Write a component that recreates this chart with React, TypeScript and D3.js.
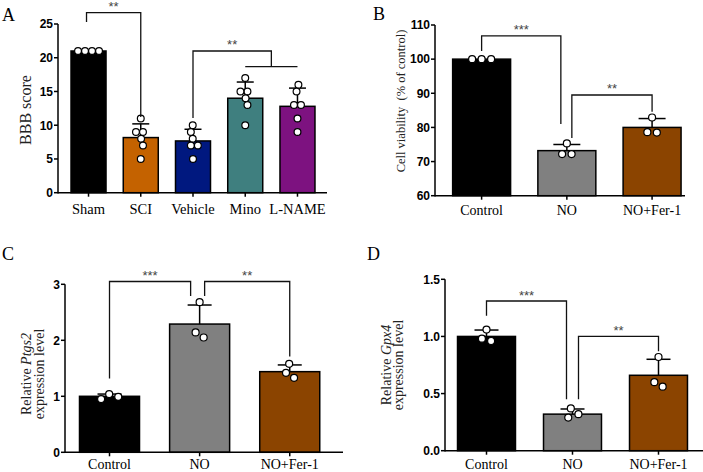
import React from "react";
import * as d3 from "d3";

// ---------- Data ----------
const A_categories = ["Sham", "SCI", "Vehicle", "Mino", "L-NAME"];
const A_means = [21, 8.17, 7.67, 14.0, 12.8];
const A_sd = [0, 2.03, 1.73, 2.4, 2.7];
const A_points = [
  [21, 21, 21, 21],
  [11, 9, 9, 8, 7, 5],
  [10, 9, 8, 7, 7, 5],
  [17, 15, 15, 14, 13, 10],
  [16, 15, 13, 13, 11, 9],
];
const A_colors = ["#000000", "#c46200", "#00187f", "#3f7f7f", "#7d1280"];
const A_ticks = [0, 5, 10, 15, 20, 25];

const B_categories = ["Control", "NO", "NO+Fer-1"];
const B_means = [100, 73.2, 80.0];
const B_sd = [0, 1.8, 2.6];
const B_points = [
  [100, 100, 100],
  [75.3, 72.2, 72.2],
  [82.9, 78.5, 78.6],
];
const B_ticks = [60, 70, 80, 90, 100, 110];

const C_categories = ["Control", "NO", "NO+Fer-1"];
const C_means = [1.0, 2.29, 1.44];
const C_sd = [0.04, 0.34, 0.12];
const C_points = [
  [1.04, 0.95, 0.99],
  [2.68, 2.05, 2.14],
  [1.58, 1.42, 1.33],
];
const C_ticks = [0, 1, 2, 3];

const D_categories = ["Control", "NO", "NO+Fer-1"];
const D_means = [1.0, 0.32, 0.66];
const D_sd = [0.056, 0.045, 0.14];
const D_points = [
  [1.06, 0.96, 0.98],
  [0.37, 0.29, 0.32],
  [0.82, 0.56, 0.6],
];
const D_ticks = [0, 0.5, 1.0, 1.5];

const BCD_colors = ["#000000", "#808080", "#8b4400"];

// Significance brackets (y in data units)
const A_brackets = [
  { l: 0, r: 1, lFoot: 25.3, top: 26.7, rFoot: 11.2, label: "**" },
  { l: 2, r: 3, rGroup: [3, 4], lFoot: 11.07, top: 21.0, rFoot: 18.67, label: "**" },
];
const B_brackets = [
  { l: 0, r: 1, lFoot: 102.4, top: 106.8, rFoot: 81.0, label: "***" },
  { l: 1, r: 2, lFoot: 76.9, top: 89.5, rFoot: 84.6, label: "**" },
];
const C_brackets = [
  { l: 0, r: 1, lFoot: 1.32, top: 3.05, rFoot: 2.79, label: "***" },
  { l: 1, r: 2, lFoot: 2.79, top: 3.05, rFoot: 1.71, label: "**" },
];
const D_brackets = [
  { l: 0, r: 1, lFoot: 1.18, top: 1.31, rFoot: 0.45, label: "***" },
  { l: 1, r: 2, lFoot: 0.45, top: 1.0, rFoot: 0.87, label: "**" },
];

// ---------- helpers ----------
function swarm(ys: number[], D: number): number[] {
  const xs: number[] = [];
  ys.forEach((y, i) => {
    const forb: [number, number][] = [];
    for (let j = 0; j < i; j++) {
      const dy = Math.abs(ys[j] - y);
      if (dy < D) {
        const w = Math.sqrt(D * D - dy * dy);
        forb.push([xs[j] - w, xs[j] + w]);
      }
    }
    const cands = [0];
    forb.forEach(([a, b]) => cands.push(a, b));
    cands.sort((p, q) => Math.abs(p) - Math.abs(q) || p - q);
    const ok = cands.find((c) => forb.every(([a, b]) => c <= a + 1e-6 || c >= b - 1e-6));
    xs.push(ok ?? 0);
  });
  // center connected clusters
  const parent = ys.map((_, i) => i);
  const find = (i: number): number => (parent[i] === i ? i : (parent[i] = find(parent[i])));
  for (let i = 0; i < ys.length; i++)
    for (let j = i + 1; j < ys.length; j++) {
      const d = Math.hypot(xs[i] - xs[j], ys[i] - ys[j]);
      if (d < D + 0.5) parent[find(i)] = find(j);
    }
  const groups = new Map<number, number[]>();
  ys.forEach((_, i) => {
    const r = find(i);
    if (!groups.has(r)) groups.set(r, []);
    groups.get(r)!.push(i);
  });
  groups.forEach((idx) => {
    if (idx.length < 2) return;
    const m = d3.mean(idx, (i) => xs[i]) as number;
    idx.forEach((i) => (xs[i] -= m));
  });
  return xs;
}

type YLabelLine = { parts: { t: string; italic?: boolean }[] };

type PanelProps = {
  letter: string;
  letterX: number;
  letterY: number;
  categories: string[];
  means: number[];
  sd: number[];
  points: number[][];
  colors: string[];
  ticks: number[];
  tickFmt: (v: number) => string;
  domain: [number, number];
  yRange: [number, number];
  yAxisX: number;
  xAxisEnd: number;
  band: [number, number];
  padInner: number;
  capHalf: number;
  xLabelY: number;
  xLabelSize: number;
  yLabel: YLabelLine[];
  yLabelX: number[];
  yLabelY: number;
  yLabelSize: number;
  brackets: any[];
  bracketOffsets: { lOff?: number; rOff?: number }[];
  dotD: number;
  dotR: number;
};

function Panel(p: PanelProps) {
  const x = d3
    .scaleBand<string>()
    .domain(p.categories)
    .range(p.band)
    .paddingInner(p.padInner)
    .paddingOuter(p.padInner / 2);
  const y = d3.scaleLinear().domain(p.domain).range(p.yRange);
  const bw = x.bandwidth();
  const cx = (i: number) => (x(p.categories[i]) as number) + bw / 2;
  const y0 = y(p.domain[0]);
  const axisW = 1.5;
  const tickFont = "'Liberation Sans', Arial, sans-serif";
  const serif = "'Liberation Serif', 'Times New Roman', serif";

  return (
    <g>
      <text x={p.letterX} y={p.letterY} fontFamily={serif} fontSize={18} fill="#000">
        {p.letter}
      </text>
      {/* bars */}
      {p.categories.map((c, i) => (
        <rect
          key={"bar" + i}
          x={x(c)}
          y={y(p.means[i])}
          width={bw}
          height={y0 - y(p.means[i])}
          fill={p.colors[i]}
          stroke="#000"
          strokeWidth={1.5}
        />
      ))}
      {/* error bars */}
      {p.categories.map((c, i) =>
        p.sd[i] > 0 ? (
          <g key={"err" + i} stroke="#000" strokeWidth={1.5}>
            <line x1={cx(i)} x2={cx(i)} y1={y(p.means[i])} y2={y(p.means[i] + p.sd[i])} />
            <line
              x1={cx(i) - p.capHalf}
              x2={cx(i) + p.capHalf}
              y1={y(p.means[i] + p.sd[i])}
              y2={y(p.means[i] + p.sd[i])}
            />
          </g>
        ) : null
      )}
      {/* points */}
      {p.points.map((pts, i) => {
        const ys = pts.map((v) => y(v));
        const xs = swarm(ys, p.dotD);
        return pts.map((v, k) => (
          <circle
            key={"pt" + i + "_" + k}
            cx={cx(i) + xs[k]}
            cy={ys[k]}
            r={p.dotR}
            fill="#fff"
            stroke="#000"
            strokeWidth={1.2}
          />
        ));
      })}
      {/* y axis */}
      <line x1={p.yAxisX} x2={p.yAxisX} y1={p.yRange[1]} y2={y0 + axisW / 2} stroke="#000" strokeWidth={axisW} />
      {p.ticks.map((t) => (
        <g key={"yt" + t}>
          <line x1={p.yAxisX - 4} x2={p.yAxisX} y1={y(t)} y2={y(t)} stroke="#000" strokeWidth={1.5} />
          <text
            x={p.yAxisX - 5}
            y={y(t)}
            dy="0.36em"
            textAnchor="end"
            fontFamily={tickFont}
            fontWeight="bold"
            fontSize={12}
            fill="#000"
          >
            {p.tickFmt(t)}
          </text>
        </g>
      ))}
      {/* x axis */}
      <line x1={p.yAxisX} x2={p.xAxisEnd} y1={y0} y2={y0} stroke="#000" strokeWidth={axisW} />
      {p.categories.map((c, i) => (
        <g key={"xt" + i}>
          <line x1={cx(i)} x2={cx(i)} y1={y0} y2={y0 + 4} stroke="#000" strokeWidth={1.5} />
          <text x={cx(i)} y={p.xLabelY} textAnchor="middle" fontFamily={serif} fontSize={p.xLabelSize} fill="#000">
            {c}
          </text>
        </g>
      ))}
      {/* y label */}
      {p.yLabel.map((ln, li) => (
        <text
          key={"yl" + li}
          transform={`translate(${p.yLabelX[li]},${p.yLabelY}) rotate(-90)`}
          textAnchor="middle"
          fontFamily={serif}
          fontSize={p.yLabelSize}
          fill="#222"
          style={{ whiteSpace: "pre" }}
        >
          {ln.parts.map((pt, k) => (
            <tspan key={k} fontStyle={pt.italic ? "italic" : "normal"}>
              {pt.t}
            </tspan>
          ))}
        </text>
      ))}
      {/* brackets */}
      {p.brackets.map((b, k) => {
        const off = p.bracketOffsets[k] || {};
        const lx = cx(b.l) + (off.lOff || 0);
        let rx: number;
        if (b.rGroup) rx = (cx(b.rGroup[0]) + cx(b.rGroup[1])) / 2;
        else rx = cx(b.r) + (off.rOff || 0);
        const ty = y(b.top);
        return (
          <g key={"br" + k}>
            <path
              d={`M${lx},${y(b.lFoot)}V${ty}H${rx}V${y(b.rFoot)}`}
              fill="none"
              stroke="#111"
              strokeWidth={1.3}
            />
            {b.rGroup ? (
              <line
                x1={cx(b.rGroup[0])}
                x2={cx(b.rGroup[1])}
                y1={y(b.rFoot)}
                y2={y(b.rFoot)}
                stroke="#111"
                strokeWidth={1.3}
              />
            ) : null}
            <text
              x={(lx + rx) / 2}
              y={ty - 1.5}
              textAnchor="middle"
              fontFamily={tickFont}
              fontSize={13}
              fill="#444"
            >
              {b.label}
            </text>
          </g>
        );
      })}
    </g>
  );
}

export default function App() {
  const fmt0 = d3.format("d");
  const fmt1 = d3.format(".1f");
  return (
    <svg
      width={703}
      height={472}
      viewBox="0 0 703 472"
      style={{ position: "absolute", left: 0, top: 0, display: "block", background: "#fff" }}
    >
      <rect x={0} y={0} width={703} height={472} fill="#fff" />
      <Panel
        letter="A"
        letterX={2}
        letterY={21}
        categories={A_categories}
        means={A_means}
        sd={A_sd}
        points={A_points}
        colors={A_colors}
        ticks={A_ticks}
        tickFmt={fmt0}
        domain={[0, 25]}
        yRange={[192.7, 24]}
        yAxisX={58}
        xAxisEnd={327}
        band={[62.4, 323.6]}
        padInner={0.33}
        capHalf={8.5}
        xLabelY={214.3}
        xLabelSize={14.5}
        yLabel={[{ parts: [{ t: "BBB score" }] }]}
        yLabelX={[30.5]}
        yLabelY={110}
        yLabelSize={16}
        brackets={A_brackets}
        bracketOffsets={[{ lOff: -2 }, {}]}
        dotD={7}
        dotR={3.4}
      />
      <Panel
        letter="B"
        letterX={373}
        letterY={20}
        categories={B_categories}
        means={B_means}
        sd={B_sd}
        points={B_points}
        colors={BCD_colors}
        ticks={B_ticks}
        tickFmt={fmt0}
        domain={[60, 110]}
        yRange={[195.7, 25]}
        yAxisX={435}
        xAxisEnd={685}
        band={[439, 694.7]}
        padInner={0.32}
        capHalf={13.5}
        xLabelY={214.5}
        xLabelSize={14}
        yLabel={[{ parts: [{ t: "Cell viability  (% of control)" }] }]}
        yLabelX={[404.5]}
        yLabelY={101}
        yLabelSize={12.5}
        brackets={B_brackets}
        bracketOffsets={[{ rOff: -6 }, { lOff: 5 }]}
        dotD={9.5}
        dotR={3.5}
      />
      <Panel
        letter="C"
        letterX={2}
        letterY={260}
        categories={C_categories}
        means={C_means}
        sd={C_sd}
        points={C_points}
        colors={BCD_colors}
        ticks={C_ticks}
        tickFmt={fmt0}
        domain={[0, 3]}
        yRange={[452.3, 284.3]}
        yAxisX={65}
        xAxisEnd={343}
        band={[64.45, 334.8]}
        padInner={0.334}
        capHalf={12}
        xLabelY={469}
        xLabelSize={14}
        yLabel={[
          { parts: [{ t: "Relative " }, { t: "Ptgs2", italic: true }] },
          { parts: [{ t: "expression level" }] },
        ]}
        yLabelX={[30.5, 43.5]}
        yLabelY={374}
        yLabelSize={14}
        brackets={C_brackets}
        bracketOffsets={[{ rOff: -9 }, { lOff: 5 }]}
        dotD={9.5}
        dotR={3.5}
      />
      <Panel
        letter="D"
        letterX={367}
        letterY={260}
        categories={D_categories}
        means={D_means}
        sd={D_sd}
        points={D_points}
        colors={BCD_colors}
        ticks={D_ticks}
        tickFmt={fmt1}
        domain={[0, 1.5]}
        yRange={[450.7, 279.3]}
        yAxisX={445}
        xAxisEnd={703}
        band={[443.5, 701.5]}
        padInner={0.326}
        capHalf={12}
        xLabelY={469}
        xLabelSize={14}
        yLabel={[
          { parts: [{ t: "Relative " }, { t: "Gpx4", italic: true }] },
          { parts: [{ t: "expression level" }] },
        ]}
        yLabelX={[390.5, 402.5]}
        yLabelY={365}
        yLabelSize={14}
        brackets={D_brackets}
        bracketOffsets={[{ rOff: -6 }, { lOff: 6 }]}
        dotD={9.5}
        dotR={3.5}
      />
    </svg>
  );
}
